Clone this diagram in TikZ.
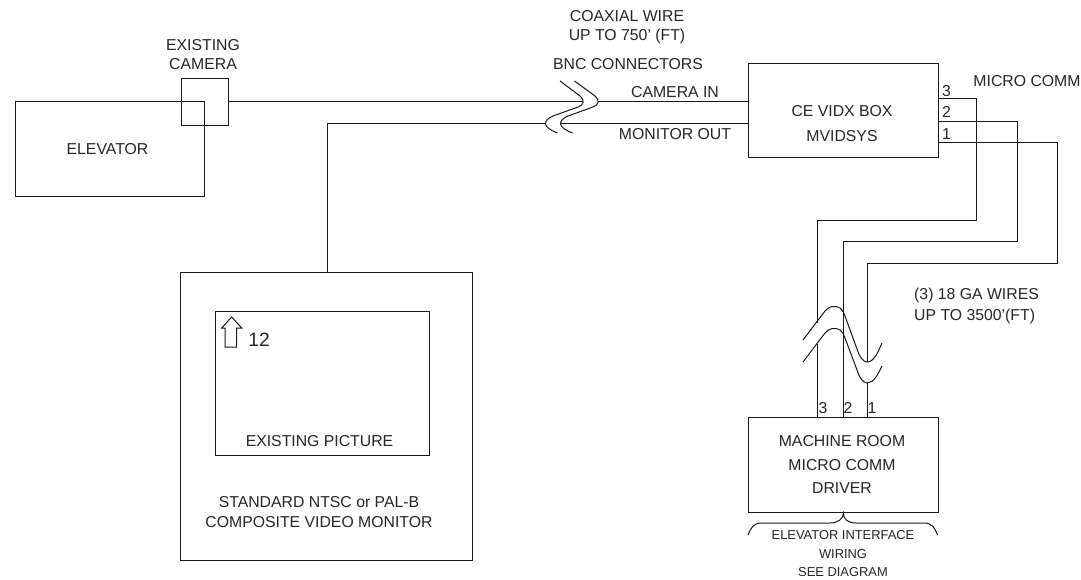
\documentclass[tikz,border=0pt]{standalone}
\usepackage{fontspec}
\setmainfont{Liberation Sans}
\tikzset{
  ln/.style={draw=black!90,line width=1pt},
  lbl/.style={inner sep=0pt,align=center,font=\fontsize{15.8}{19}\selectfont,text=black!85},
  sm/.style={inner sep=0pt,align=center,font=\fontsize{12.9}{18.5}\selectfont,text=black!85},
  boxn/.style={ln,inner sep=0pt,anchor=north west}
}
\begin{document}
\begin{tikzpicture}[x=1pt,y=-1pt]
\useasboundingbox (0,0) rectangle (1081,579);
\node[boxn,minimum width=189.5pt,minimum height=95pt] (elev) at (14.7,101) {};
\node[boxn,minimum width=47.5pt,minimum height=47.3pt] (cam) at (180.7,77.7) {};
\node[boxn,minimum width=190pt,minimum height=94.2pt] (ce) at (748,62.6) {};
\node[boxn,minimum width=292pt,minimum height=288pt] (mon) at (180,272) {};
\node[boxn,minimum width=214pt,minimum height=144pt] (pic) at (215,311) {};
\node[boxn,minimum width=190pt,minimum height=95pt] (mr) at (748,417) {};
\node[lbl] (t1) at (107.5,149) {ELEVATOR};
\node[lbl] (t2) at (203,54.5) {EXISTING\\CAMERA};
\node[lbl] (t3) at (627,27.5) {COAXIAL WIRE\\UP TO 750' (FT)};
\node[lbl] (t4) at (628,64) {BNC CONNECTORS};
\node[lbl] (t5) at (675,92) {CAMERA IN};
\node[lbl] (t6) at (675,134) {MONITOR OUT};
\node[lbl,font=\fontsize{15.8}{25}\selectfont] (t7) at (842,123.5) {CE VIDX BOX\\MVIDSYS};
\node[lbl] (t8) at (1027,81) {MICRO COMM};
\node[lbl,align=left,anchor=west,font=\fontsize{15.8}{21.5}\selectfont] (t9) at (914,306) {(3) 18 GA WIRES\\UP TO 3500'(FT)};
\node[lbl] (t10) at (319.5,441) {EXISTING PICTURE};
\node[lbl,font=\fontsize{15.8}{20}\selectfont] (t11) at (319,512) {STANDARD NTSC or PAL-B\\COMPOSITE VIDEO MONITOR};
\node[lbl,font=\fontsize{19.3}{20}\selectfont] (t12) at (259,340) {12};
\node[lbl,font=\fontsize{15.8}{23.5}\selectfont] (t13) at (842,464.5) {MACHINE ROOM\\MICRO COMM\\DRIVER};
\node[sm] (t14) at (843,554) {ELEVATOR INTERFACE\\WIRING\\SEE DIAGRAM};
\node[lbl] (n3) at (946.5,91) {3};
\node[lbl] (n2) at (946.5,112) {2};
\node[lbl] (n1) at (946.5,134) {1};
\node[lbl] (m3) at (823,408) {3};
\node[lbl] (m2) at (848,408) {2};
\node[lbl] (m1) at (872,408) {1};
% arrow icon
\draw[ln] (225,347) -- (225,328) -- (221.7,328) -- (231.7,317) -- (241.7,328) -- (236.7,328) -- (236.7,347) -- cycle;
% coax
\coordinate (c1) at (228,101);
\coordinate (c2) at (583,101);
\coordinate (c3) at (598,101);
\coordinate (c4) at (327,123.5);
\coordinate (c5) at (545.5,123.5);
\coordinate (c6) at (560.5,123.5);
\draw[ln] (cam.east|-c1) -- (c2);
\draw[ln] (c3) -- (ce.west|-c3);
\draw[ln] (c6) -- (ce.west|-c6);
\draw[ln] (mon.north-|c4) -- (c4) -- (c5);
\draw[ln] (560,81) -- (580,96) .. controls (585,100) and (584,105) .. (578,107) -- (553,116) .. controls (548,118) and (545.5,121) .. (545.5,123.5) .. controls (545.5,127) and (550,130) .. (557.5,133);
\draw[ln] (574.5,81) -- (595,96) .. controls (600,100) and (599,105) .. (593,107) -- (568,116) .. controls (563,118) and (560.5,121) .. (560.5,123.5) .. controls (560.5,127) and (565,130) .. (572.5,133);
% wires
\coordinate (w3a) at (976.7,98.5);
\coordinate (w3b) at (817,220);
\coordinate (w3c) at (817,323);
\coordinate (w3d) at (817,344);
\coordinate (w2a) at (1017,121);
\coordinate (w2b) at (843,241);
\coordinate (w1a) at (1057.7,142.3);
\coordinate (w1b) at (867,263);
\coordinate (w1c) at (867,362);
\coordinate (w1d) at (867,383);
\draw[ln] (ce.east|-w3a) -- (w3a) -- (w3a|-w3b) -- (w3b) -- (w3c);
\draw[ln] (ce.east|-w2a) -- (w2a) -- (w2a|-w2b) -- (w2b) -- (w2b|-mr.north);
\draw[ln] (ce.east|-w1a) -- (w1a) -- (w1a|-w1b) -- (w1b) -- (w1c);
\draw[ln] (w3d) -- (w3d|-mr.north);
\draw[ln] (w1d) -- (w1d|-mr.north);
% lower break
\draw[ln] (803,340) -- (825,311) .. controls (829,306) and (835,305) .. (840,308) .. controls (843,310) and (844,313) .. (845,316) -- (857,349) .. controls (859,356) and (863,362) .. (867,362) .. controls (874,362) and (878,352) .. (882,343);
\draw[ln] (803,362) -- (825,333) .. controls (829,328) and (835,327) .. (840,330) .. controls (843,332) and (844,335) .. (845,338) -- (857,370) .. controls (859,377) and (863,383) .. (867,383) .. controls (874,383) and (878,374) .. (882,366);
% brace
\draw[ln] (748,535) .. controls (751,528) and (753,523) .. (762,523) -- (830,523) .. controls (838,523) and (843,519) .. (mr.south) .. controls (843,519) and (848,523) .. (856,523) -- (924,523) .. controls (932,523) and (935,528) .. (937.5,535);
\end{tikzpicture}
\end{document}
